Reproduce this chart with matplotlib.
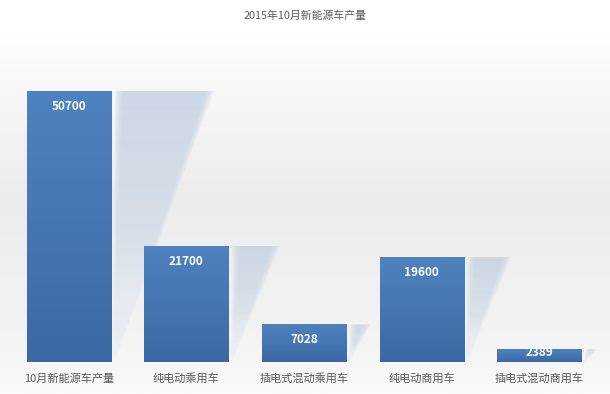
import numpy as np
import matplotlib.pyplot as plt
from matplotlib.colors import LinearSegmentedColormap
from matplotlib.patches import Polygon

plt.rcParams['font.family'] = ['Noto Sans CJK SC', 'DejaVu Sans']

# chart data
title = '2015年10月新能源车产量'
categories = ['10月新能源车产量', '纯电动乘用车', '插电式混动乘用车', '纯电动商用车', '插电式混动商用车']
values = [50700, 21700, 7028, 19600, 2389]

fig = plt.figure(figsize=(6.10, 3.94), dpi=100)

# background gradient (white at top, light grey in the middle)
bg = fig.add_axes([0, 0, 1, 1], zorder=-10)
bg_cmap = LinearSegmentedColormap.from_list('bg', [
    (0.0, '#ffffff'), (0.08, '#ffffff'), (0.15, '#fbfbfb'),
    (0.5, '#ececec'), (0.85, '#f3f3f3'), (1.0, '#fafafa')])
bg.imshow(np.linspace(0, 1, 256).reshape(-1, 1), aspect='auto', cmap=bg_cmap,
          extent=[0, 1, 0, 1], origin='upper')
bg.set_axis_off()

# main axes, positioned in pixels
W, H = 610, 394
ax = fig.add_axes([10 / W, 32 / H, 588 / W, 320.7 / H])
ax.patch.set_alpha(0)
x = np.arange(len(categories))
bar_w = 0.715
ax.set_xlim(-0.5, len(categories) - 0.5)
ax.set_ylim(0, 60000)

bars = ax.bar(x, values, width=bar_w, color='#4a7ebb', zorder=3)

bar_cmap = LinearSegmentedColormap.from_list('bar', ['#3c69a5', '#4f82c0'])
shadow_cmap = LinearSegmentedColormap.from_list('sh', [
    (0.0, (0.93, 0.95, 0.98, 0.0)), (0.45, (0.80, 0.85, 0.91, 0.5)),
    (1.0, (0.77, 0.82, 0.89, 0.85))])

slant = 1.64e-5  # shadow lean per unit of value, in category units
n_blur = 8
for rect, v in zip(bars, values):
    x0 = rect.get_x()
    x1 = x0 + rect.get_width()
    # soft slanted shadow behind each bar: several offset copies
    for k in range(n_blur):
        d = (k / (n_blur - 1) - 0.5) * 0.07
        sx = x1 + 0.07 + d
        poly = Polygon([(x1 + 0.02, 0), (sx, v), (sx + slant * v * 0.93 - 2 * d, v),
                        (x1 + 0.03, 0)],
                       closed=True, facecolor='none', edgecolor='none')
        ax.add_patch(poly)
        im = ax.imshow(np.linspace(0, 1, 128).reshape(-1, 1), aspect='auto', cmap=shadow_cmap,
                       extent=[x1, x1 + 0.2 + slant * v, 0, v], origin='lower', zorder=2,
                       alpha=1.6 / n_blur)
        im.set_clip_path(poly)
    # vertical gradient on the bar
    gim = ax.imshow(np.linspace(0, 1, 128).reshape(-1, 1), aspect='auto', cmap=bar_cmap,
                    extent=[x0, x1, 0, v], origin='lower', zorder=4)
    gim.set_clip_path(rect)
    ax.text(rect.get_x() + rect.get_width() / 2, max(v - 2900, 1700), f'{v}',
            ha='center', va='center', color='white', fontsize=8.5, fontweight='bold',
            zorder=5)

ax.set_xlim(-0.5, len(categories) - 0.5)
ax.set_ylim(0, 60000)
ax.set_xticks(x)
ax.set_xticklabels(categories, fontsize=8, color='#595959')
ax.tick_params(axis='x', length=0, pad=8)
ax.set_yticks([])
for s in ax.spines.values():
    s.set_visible(False)

fig.text(0.5, 1 - 16 / H, title, ha='center', va='center', fontsize=7.8, color='#595959')

fig.savefig('out.png', dpi=100)
